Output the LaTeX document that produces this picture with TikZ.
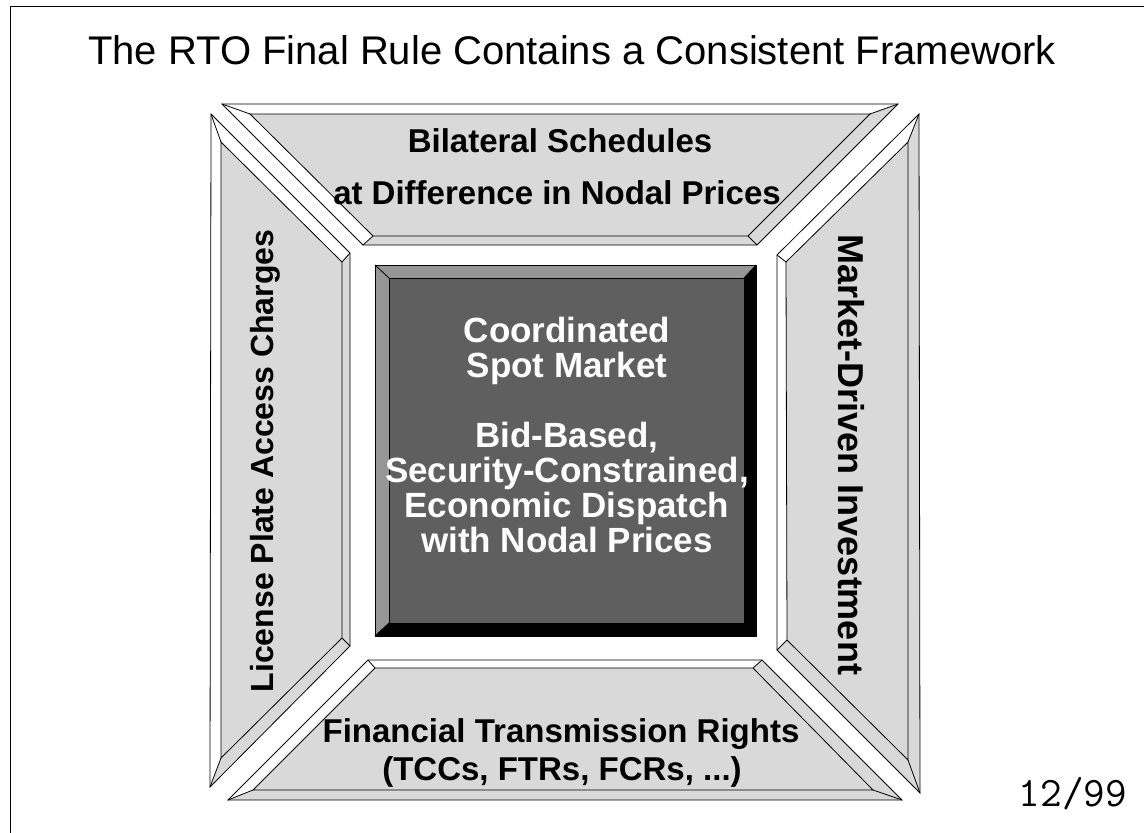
\documentclass[tikz,border=0pt]{standalone}
\usepackage{fontspec}
\setmainfont{Liberation Sans}
\definecolor{face}{RGB}{217,217,217}
\definecolor{cface}{RGB}{95,95,95}
\definecolor{clit}{RGB}{150,150,150}
\tikzset{
  edge/.style={draw=black,line width=0.8pt,line join=miter},
  lbl/.style={anchor=base,font=\fontsize{33}{36}\selectfont\bfseries,inner sep=0pt},
  clbl/.style={lbl,text=white,font=\fontsize{35}{36}\selectfont\bfseries},
}
\newcommand\bevelbox[4]{%
  \fill[#3] (#1o1)--(#1o2)--(#1o3)--(#1o4)--cycle;
  \fill[#2] (#1o4)--(#1o1)--(#1o2)--(#1i2)--(#1i1)--(#1i4)--cycle;
  \fill[#4] (#1i1)--(#1i2)--(#1i3)--(#1i4)--cycle;
  \draw[edge] (#1o1)--(#1o2)--(#1o3)--(#1o4)--cycle;
  \draw[edge] (#1i1)--(#1i2)--(#1i3)--(#1i4)--cycle;
  \foreach \k in {1,2,3,4} {\draw[edge] (#1o\k)--(#1i\k);}
}
\begin{document}
\begin{tikzpicture}[x=1pt,y=-1pt]
\useasboundingbox (0,0) rectangle (1144,833);
% frame
\coordinate (frTL) at (10,6);
\coordinate (frTR) at (1150,6);
\coordinate (frBL) at (10,840);
\draw[line width=1pt] (frTR)--(frTL)--(frBL);
% title
\node[anchor=base,inner sep=0pt,font=\fontsize{40}{44}\selectfont] (title) at (572,64) {The RTO Final Rule Contains a Consistent Framework};
% top trapezoid
\coordinate (T-o1) at (222,104); \coordinate (T-o2) at (898,104);
\coordinate (T-o3) at (757,245); \coordinate (T-o4) at (363,245);
\coordinate (T-i1) at (250,114); \coordinate (T-i2) at (870,114);
\coordinate (T-i3) at (748,236); \coordinate (T-i4) at (373,236);
\bevelbox{T-}{white}{face}{face}
% left trapezoid
\coordinate (L-o1) at (211,114); \coordinate (L-o2) at (350,253);
\coordinate (L-o3) at (350,646); \coordinate (L-o4) at (210,787);
\coordinate (L-i1) at (221,142); \coordinate (L-i2) at (342,262);
\coordinate (L-i3) at (342,638); \coordinate (L-i4) at (221,758);
\bevelbox{L-}{white}{face}{face}
% right trapezoid
\coordinate (R-o1) at (777,255); \coordinate (R-o2) at (919,114);
\coordinate (R-o3) at (920,793); \coordinate (R-o4) at (777,650);
\coordinate (R-i1) at (786,262); \coordinate (R-i2) at (908,142);
\coordinate (R-i3) at (908,760); \coordinate (R-i4) at (787,640);
\bevelbox{R-}{white}{face}{face}
% bottom trapezoid
\coordinate (B-o1) at (368,660); \coordinate (B-o2) at (762,660);
\coordinate (B-o3) at (902,800); \coordinate (B-o4) at (228,800);
\coordinate (B-i1) at (375,668); \coordinate (B-i2) at (753,668);
\coordinate (B-i3) at (873,790); \coordinate (B-i4) at (253,790);
\bevelbox{B-}{white}{face}{face}
% centre box
\coordinate (C-o1) at (375,265); \coordinate (C-o2) at (756,265);
\coordinate (C-o3) at (756,636); \coordinate (C-o4) at (375,636);
\coordinate (C-i1) at (389,278); \coordinate (C-i2) at (744,278);
\coordinate (C-i3) at (744,623); \coordinate (C-i4) at (389,623);
\bevelbox{C-}{clit}{black}{cface}
% texts
\node[lbl] (t1) at (560,152) {Bilateral Schedules};
\node[lbl] (t2) at (557,204) {at Difference in Nodal Prices};
\node[lbl,rotate=90,font=\fontsize{32}{36}\selectfont\bfseries] (lt) at (273,461) {License Plate Access Charges};
\node[lbl,rotate=-90,font=\fontsize{36}{40}\selectfont\bfseries] (rt) at (838,455) {Market-Driven Investment};
\node[lbl] (b1) at (561,742) {Financial Transmission Rights};
\node[lbl] (b2) at (562,780) {(TCCs, FTRs, FCRs, ...)};
\node[clbl] (c1) at (567,342) {Coordinated};
\node[clbl] (c2) at (567,377) {Spot Market};
\node[clbl] (c3) at (567,447) {Bid-Based,};
\node[clbl] (c4) at (567,482) {Security-Constrained,};
\node[clbl] (c5) at (567,517) {Economic Dispatch};
\node[clbl] (c6) at (567,552) {with Nodal Prices};
% page number
\node[anchor=base,inner sep=0pt,font=\ttfamily\fontsize{42}{44}\selectfont] (pg) at (1073,806) {12/99};
\end{tikzpicture}
\end{document}
